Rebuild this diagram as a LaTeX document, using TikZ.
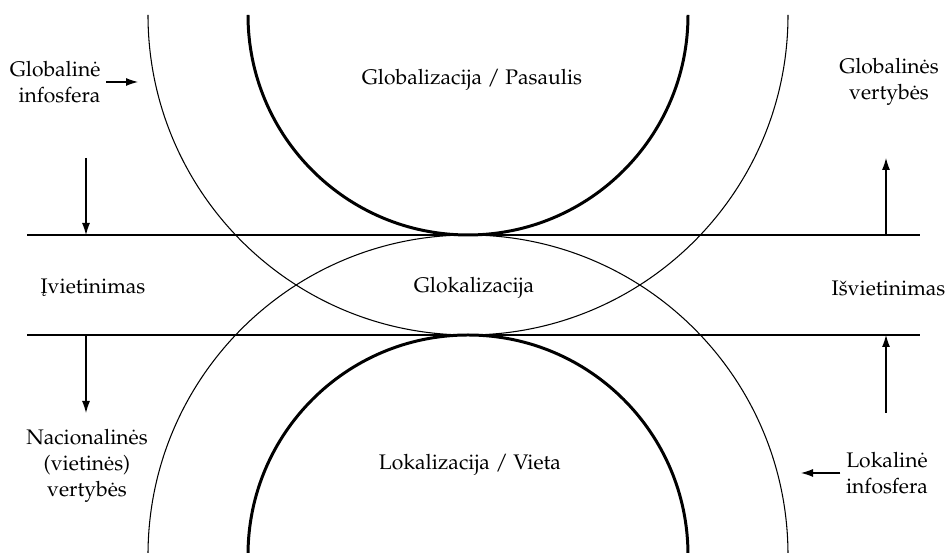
\documentclass[tikz,border=0pt]{standalone}
\usepackage[T1]{fontenc}
\usepackage{mathpazo}
\usepackage{tikz}
\usetikzlibrary{arrows.meta}

\begin{document}
\begin{tikzpicture}[
  x=0.02cm,y=0.02cm,
  font=\fontsize{12}{15}\selectfont,
  ring/.style={line width=0.6pt},
  core/.style={line width=1.7pt},
  band/.style={line width=0.6pt},
  lbl/.style={align=center,inner sep=3pt},
  arr/.style={-{Latex[length=2.4mm,width=1.6mm]},line width=0.6pt}
]
\useasboundingbox (0,0) rectangle (947,553);
\draw[band] (27,318) coordinate (b1l) -- (920,318) coordinate (b1r);
\draw[band] (27,218) coordinate (b2l) -- (920,218) coordinate (b2r);
\draw[ring] (148,538) arc[start angle=180,end angle=360,radius=320];
\draw[core] (248,538) arc[start angle=180,end angle=360,radius=220];
\draw[ring] (148,-2) arc[start angle=180,end angle=0,radius=320];
\draw[core] (248,-2) arc[start angle=180,end angle=0,radius=220];
\node[lbl] (glob) at (472,473) {Globalizacija / Pasaulis};
\node[lbl] (glok) at (474,265) {Glokalizacija};
\node[lbl] (lok)  at (470,88)  {Lokalizacija / Vieta};
\node[lbl,anchor=west] (iv) at (35,265) {\k{I}vietinimas};
\node[lbl,anchor=east] (isv) at (951,265) {I\v{s}vietinimas};
\node[lbl,align=right,anchor=east] (gis) at (106,471) {Globalin\.e\\infosfera};
\node[lbl] (gv) at (889,471) {Globalin\.es\\vertyb\.es};
\node[lbl] (nv) at (87,87) {Nacionalin\.es\\(vietin\.es)\\vertyb\.es};
\node[lbl] (lis) at (887,80) {Lokalin\.e\\infosfera};
\coordinate (gisTip) at (138,471);
\coordinate (lisTip) at (801,80);
\coordinate (dnTop) at (86,395);
\coordinate (dnBot) at (86,140);
\coordinate (upTop) at (886,395);
\coordinate (upBot) at (886,140);
\draw[arr] (gis) -- (gisTip);
\draw[arr] (lis) -- (lisTip);
\draw[arr] (dnTop) -- (dnTop |- b1l);
\draw[arr] (dnTop |- b2l) -- (dnBot);
\draw[arr] (upTop |- b1r) -- (upTop);
\draw[arr] (upBot) -- (upBot |- b2r);
\end{tikzpicture}
\end{document}
